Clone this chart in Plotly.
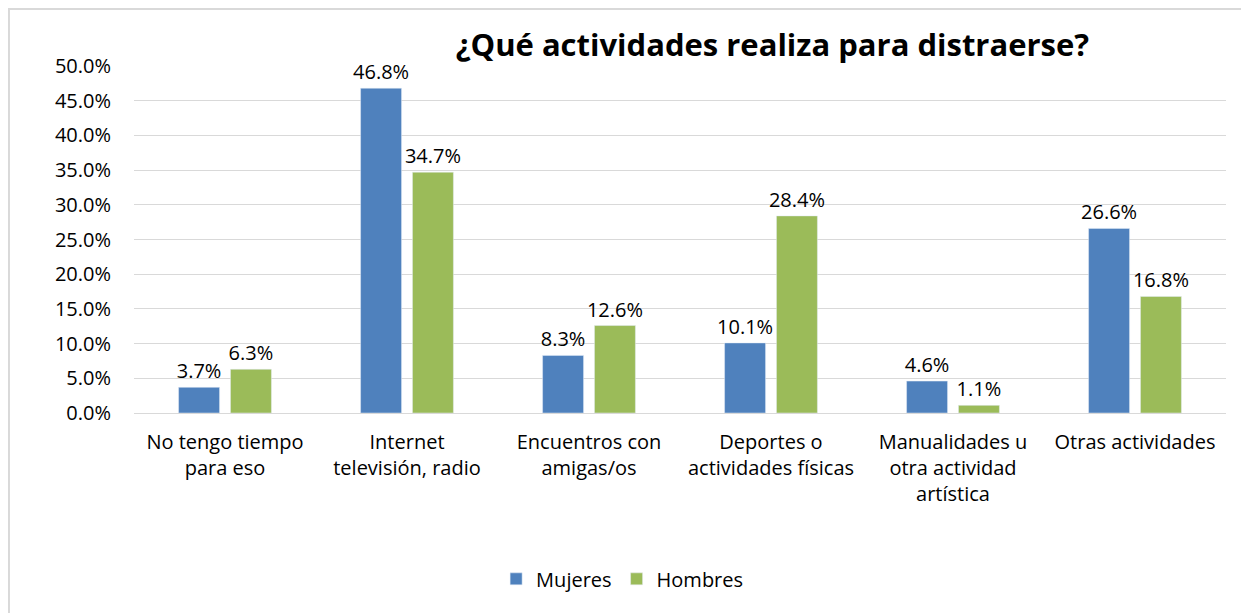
import plotly.graph_objects as go

categories = [
    "No tengo tiempo<br>para eso",
    "Internet<br>televisión, radio",
    "Encuentros con<br>amigas/os",
    "Deportes o<br>actividades físicas",
    "Manualidades u<br>otra actividad<br>artística",
    "Otras actividades",
]
mujeres = [0.037, 0.468, 0.083, 0.101, 0.046, 0.266]
hombres = [0.063, 0.347, 0.126, 0.284, 0.011, 0.168]

FONT = "'Open Sans', sans-serif"

fig = go.Figure()
fig.add_trace(go.Bar(
    x=categories, y=mujeres, name="Mujeres",
    marker_color="#4F81BD",
    text=[f"{v*100:.1f}%" for v in mujeres], textposition="outside",
    constraintext="none",
    textfont=dict(size=20, color="#000000"), cliponaxis=False
))
fig.add_trace(go.Bar(
    x=categories, y=hombres, name="Hombres",
    marker_color="#9BBB59",
    text=[f"{v*100:.1f}%" for v in hombres], textposition="outside",
    constraintext="none",
    textfont=dict(size=20, color="#000000"), cliponaxis=False
))

fig.update_layout(
    width=1249, height=613,
    paper_bgcolor="white", plot_bgcolor="white",
    font=dict(family=FONT, size=20, color="#000000"),
    title=dict(text="<b>¿Qué actividades realiza para distraerse?</b>",
               x=0.612, xanchor="center", y=0.94, yanchor="middle",
               font=dict(size=31, family=FONT, color="#000000")),
    margin=dict(l=126, r=31, t=58, b=208),
    barmode="group", bargap=0.43, bargroupgap=0.21,
    xaxis=dict(showgrid=False, showline=True, linecolor="#D9D9D9",
               tickfont=dict(size=20), ticks="", ticklabelstandoff=11,
               automargin=False),
    yaxis=dict(range=[0, 0.5], dtick=0.05, tickformat=".1%",
               showgrid=True, gridcolor="#D9D9D9", gridwidth=1,
               zeroline=False, tickfont=dict(size=20), ticks="",
               ticklabelstandoff=22, automargin=False),
    legend=dict(orientation="h", x=0.447, xanchor="center", y=-0.478, yanchor="middle",
                font=dict(size=20), itemwidth=30),
    shapes=[dict(type="rect", xref="paper", yref="paper",
                 x0=-0.1145, x1=1.04, y0=-0.62, y1=1.164,
                 line=dict(color="#D9D9D9", width=2), fillcolor="rgba(0,0,0,0)",
                 layer="below")],
)

fig.write_html("out.html")
